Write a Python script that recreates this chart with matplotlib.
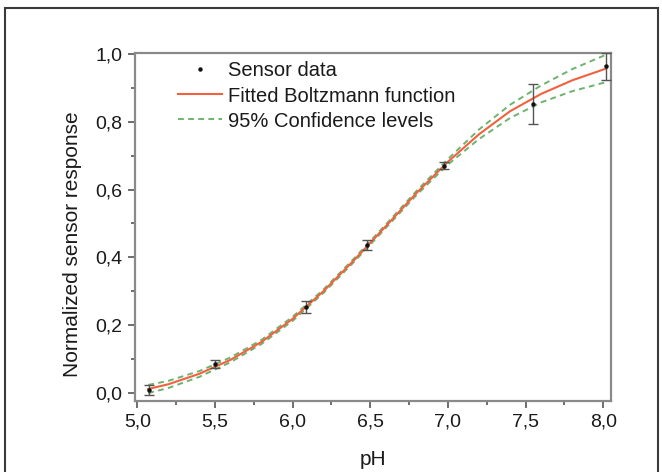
import matplotlib
matplotlib.use("Agg")
import matplotlib.pyplot as plt
from matplotlib.patches import Rectangle
from matplotlib.ticker import MultipleLocator, FuncFormatter

# Sensor data (pH, normalized response, error)
ph_data = [5.077, 5.498, 6.088, 6.479, 6.972, 7.55, 8.02]
resp_data = [0.009, 0.085, 0.253, 0.437, 0.670, 0.852, 0.963]
resp_err = [0.016, 0.011, 0.017, 0.015, 0.010, 0.060, 0.041]

# Fitted Boltzmann curve
ph_fit = [5.07, 5.2, 5.4, 5.6, 5.8, 6.0, 6.2, 6.4, 6.6, 6.8, 7.0, 7.2, 7.4, 7.6, 7.8, 8.02]
resp_fit = [0.012, 0.026, 0.057, 0.098, 0.151, 0.219, 0.301, 0.394, 0.492, 0.591,
            0.682, 0.763, 0.831, 0.882, 0.922, 0.957]
conf_upper = [0.024, 0.036, 0.065, 0.105, 0.157, 0.225, 0.306, 0.399, 0.497, 0.597,
              0.690, 0.777, 0.850, 0.907, 0.955, 0.998]
conf_lower = [0.000, 0.015, 0.048, 0.091, 0.145, 0.213, 0.296, 0.389, 0.487, 0.585,
              0.674, 0.749, 0.811, 0.857, 0.890, 0.917]

plt.rcParams['font.family'] = ['Liberation Sans', 'DejaVu Sans']

fig = plt.figure(figsize=(6.62, 4.72), dpi=100)
ax = fig.add_axes([0.204, 0.150, 0.719, 0.738])

green = '#6db36d'
red = '#f2613f'
txt = '#1a1a1a'

l_up, = ax.plot(ph_fit, conf_upper, color=green, lw=1.4, dashes=(3, 2.2), zorder=2)
ax.plot(ph_fit, conf_lower, color=green, lw=1.4, dashes=(3, 2.2), zorder=2)
l_fit, = ax.plot(ph_fit, resp_fit, color=red, lw=1.5, zorder=3)
ax.errorbar(ph_data, resp_data, yerr=resp_err, fmt='none', ecolor='#555555',
            elinewidth=1.0, capsize=3.5, capthick=1.0, zorder=4)
l_dat, = ax.plot(ph_data, resp_data, 'o', color='#111111', ms=2.2, zorder=5, ls='none')

ax.set_xlim(4.985, 8.05)
ax.set_ylim(-0.024, 1.003)

ax.xaxis.set_major_locator(MultipleLocator(0.5))
ax.xaxis.set_minor_locator(MultipleLocator(0.25))
ax.yaxis.set_major_locator(MultipleLocator(0.2))
ax.yaxis.set_minor_locator(MultipleLocator(0.1))
ax.xaxis.set_major_formatter(FuncFormatter(lambda v, p: f"{v:.1f}".replace('.', ',')))
ax.yaxis.set_major_formatter(FuncFormatter(lambda v, p: f"{v:.1f}".replace('.', ',')))

spine_c = '#8a8a8a'
for s in ax.spines.values():
    s.set_color(spine_c)
    s.set_linewidth(1.6)
ax.tick_params(which='both', direction='out', color='#555555', top=False, right=False,
               labelsize=14, labelcolor=txt)
ax.tick_params(which='major', length=5, width=1.2, pad=4)
ax.tick_params(which='minor', length=3, width=1.2)

ax.set_xlabel('pH', fontsize=15, color=txt, labelpad=14)
ax.set_ylabel('Normalized sensor response', fontsize=15, color=txt)
ax.yaxis.set_label_coords(-0.111, 0.45)

leg = ax.legend([l_dat, l_fit, l_up],
                ['Sensor data', 'Fitted Boltzmann function', '95% Confidence levels'],
                loc='upper left', bbox_to_anchor=(0.065, 1.01), frameon=False,
                fontsize=14.5, handlelength=2.2, handletextpad=0.3, labelspacing=0.3,
                borderaxespad=0.2)
for t in leg.get_texts():
    t.set_color(txt)

# outer frame
frame = Rectangle((5 / 662, -0.05), (658 - 5) / 662, (472 - 8) / 472 + 0.05,
                  transform=fig.transFigure, fill=False, edgecolor='#3a3a3a',
                  lw=1.5, clip_on=False)
fig.patches.append(frame)

fig.savefig('out.png', dpi=100)
